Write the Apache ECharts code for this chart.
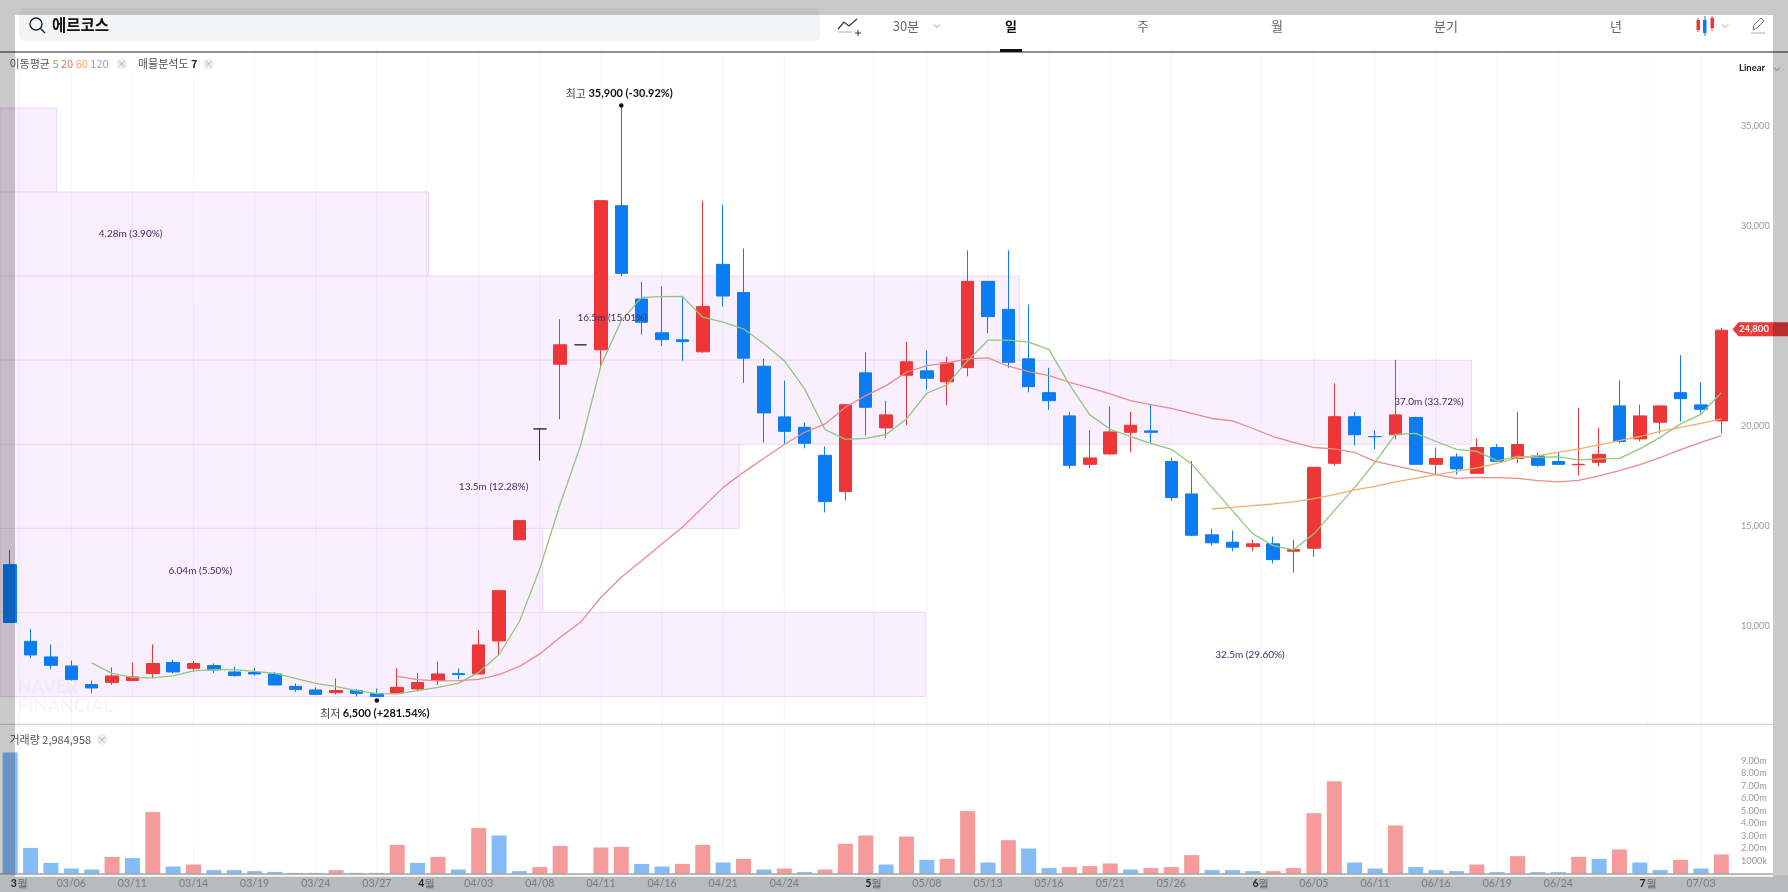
<!DOCTYPE html>
<html>
<head>
<meta charset="utf-8">
<title>에르코스</title>
<script src="https://cdn.jsdelivr.net/npm/echarts@6/dist/echarts.min.js"></script>
<style>
html,body{margin:0;padding:0;background:#fff;}
#main{width:1788px;height:892px;}
</style>
</head>
<body>
<div id="main"></div>
<script>
// 거래일 (2025/02/28 ~ 07/04)
var tradeDays = ['02/28','03/04','03/05','03/06','03/07','03/10','03/11','03/12','03/13','03/14',
    '03/17','03/18','03/19','03/20','03/21','03/24','03/25','03/26','03/27','03/28',
    '03/31','04/01','04/02','04/03','04/04','04/07','04/08','04/09','04/10','04/11',
    '04/14','04/15','04/16','04/17','04/18','04/21','04/22','04/23','04/24','04/25',
    '04/28','04/29','04/30','05/02','05/07','05/08','05/09','05/12','05/13','05/14',
    '05/15','05/16','05/19','05/20','05/21','05/22','05/23','05/26','05/27','05/28',
    '05/29','05/30','06/02','06/04','06/05','06/09','06/10','06/11','06/12','06/13',
    '06/16','06/17','06/18','06/19','06/20','06/23','06/24','06/25','06/26','06/27',
    '06/30','07/01','07/02','07/03','07/04'];

var priceOpen = [13090,9260,8480,8030,7100,7210,7300,7650,8200,7910,
    8050,7730,7700,7630,7010,6830,6700,6800,6650,6680,
    6880,7300,7650,7630,9280,14330,19870,23100,24070,23820,
    31020,26360,24670,24320,23720,28090,26680,23000,20470,19950,
    18550,16740,22670,19920,22550,22770,22220,22930,27240,25840,
    23370,21680,20520,18100,18620,19700,19770,18240,16620,14580,
    14210,13990,14130,13760,13910,18150,20480,19490,19580,20440,
    18100,18470,17650,18940,18390,18520,18240,18080,18200,21020,
    19370,20200,21680,21070,20270];
var priceClose = [10200,8580,8060,7350,6930,7530,7480,8150,7730,8150,
    7830,7550,7630,7080,6850,6610,6800,6660,6500,6960,
    7200,7630,7600,9080,11790,15290,19870,24070,24070,31270,
    27640,25200,24330,24230,25980,26510,23400,20670,19750,19150,
    16240,21080,20950,20570,23220,22400,23170,27240,25480,23200,
    21980,21280,18050,18420,19720,20050,19700,16440,14560,14180,
    13960,14130,13340,13840,17950,20480,19580,19480,20570,18100,
    18390,17870,18940,18250,19090,18050,18100,18100,18600,19240,
    20520,21020,21380,20850,24800];
var priceLow = [10200,8410,7860,7300,6660,7080,7300,7410,7660,7760,
    7680,7500,7550,7060,6730,6600,6610,6500,6500,6630,
    6760,7080,7360,7630,8600,14330,18290,20350,24070,23000,
    27490,24580,24000,23280,23670,25980,22170,19190,19120,18900,
    15700,16290,19540,19420,20070,21830,21050,22500,24650,22920,
    21700,20820,17870,17920,18570,18700,19170,16270,14510,14040,
    13760,13760,13160,12690,13480,18020,19050,18850,19350,18100,
    17550,17590,17650,18200,18150,17970,18100,17550,18000,19140,
    19250,19650,20240,20650,19640];
var priceHigh = [13830,9880,9100,8300,7300,7960,8200,9100,8350,8280,
    8150,8000,7930,7730,7160,6960,7400,6880,6900,7910,
    7680,8250,7910,9800,11790,15290,19870,25350,24070,31270,
    35900,27210,26980,26480,31270,31070,28880,23370,22280,20190,
    18990,21080,23700,21270,24220,23780,23480,28790,27240,28790,
    26080,22920,20720,19790,20980,20720,21100,18420,18270,14880,
    14790,14330,14490,14330,17950,22150,20720,19790,23320,20480,
    18940,18650,19390,19120,20720,18670,18720,20930,19930,22300,
    21080,21020,23550,22200,24920];

var ma5 = [null,null,null,null,8180,7660,7460,7430,7530,7780,
    7850,7850,7760,7660,7410,7160,7000,6800,6650,6630,
    6800,6960,7160,7710,8600,10250,12890,16120,19040,23030,
    25280,26440,26480,26490,25450,25200,24870,24120,23280,21870,
    19840,19350,19400,19590,20370,21650,22080,23280,24300,24300,
    24200,23830,22080,20570,19850,19490,19150,18850,18120,16950,
    15790,14630,14040,13830,14630,15790,16950,18200,19600,19650,
    19240,18850,18750,18270,18500,18450,18470,18320,18370,18400,
    18870,19450,20120,20600,21680];
var ma20 = [null,null,null,null,null,null,null,null,null,null,
    null,null,null,null,null,null,null,null,null,7510,
    7350,7280,7300,7360,7600,8010,8630,9460,10210,11460,
    12460,13290,14130,14960,15950,16950,17700,18400,19090,19700,
    20120,20950,21530,22030,22700,23030,23170,23370,23420,23000,
    22730,22530,22200,21920,21620,21280,21080,20900,20650,20390,
    20270,19890,19490,19200,18940,18870,18690,18250,18020,17800,
    17590,17400,17450,17440,17400,17290,17220,17300,17520,17790,
    18090,18440,18840,19200,19540];
var ma60 = [null,null,null,null,null,null,null,null,null,null,
    null,null,null,null,null,null,null,null,null,null,
    null,null,null,null,null,null,null,null,null,null,
    null,null,null,null,null,null,null,null,null,null,
    null,null,null,null,null,null,null,null,null,null,
    null,null,null,null,null,null,null,null,null,15870,
    15950,16040,16120,16220,16390,16590,16820,17000,17220,17400,
    17590,17750,17920,18150,18420,18540,18700,18870,19070,19290,
    19490,19750,19950,20150,20370];

// 거래량(백만주), 1이면 빨강 0이면 파랑
var volume = [9.68,2.05,0.85,0.40,0.32,1.33,1.23,4.91,0.56,0.72,
    0.27,0.27,0.19,0.13,0.05,0.05,0.27,0.05,0.05,2.29,
    0.85,1.33,0.32,3.63,3.04,0.19,0.51,2.21,0,2.08,
    2.13,0.77,0.56,0.77,2.29,0.88,1.17,0.32,0.40,0.11,
    0.32,2.37,3.04,0.72,2.96,1.09,1.17,4.99,0.88,2.67,
    2.00,0.43,0.51,0.59,0.80,0.32,0.43,0.51,1.47,0.27,
    0.27,0.19,0.19,0.43,4.83,7.39,0.88,0.40,3.84,0.51,
    0.27,0.19,0.72,0.11,1.39,0.11,0.11,1.33,1.17,1.92,
    0.88,0.27,1.09,0.40,1.52];
var volumeUp = [0,0,0,0,0,1,0,1,0,1,
    0,0,0,0,0,0,1,0,1,1,
    0,1,0,1,0,0,1,1,1,1,
    1,0,0,1,1,0,1,0,1,0,
    1,1,1,0,1,0,1,1,0,1,
    0,0,1,1,1,0,1,1,1,0,
    0,0,1,1,1,1,0,0,1,0,
    0,0,1,0,1,0,0,1,0,1,
    0,0,1,0,1];

// 날짜축 눈금 (월 경계는 두 거래일 사이)
var tickAt = [0.45,3,6,9,12,15,18,20.45,23,26,29,32,35,38,42.4,45,48,51,54,57,61.4,64,67,70,73,76,80.4,83];
var tickLabel = ['3월','03/06','03/11','03/14','03/19','03/24','03/27','4월','04/03','04/08','04/11','04/16','04/21','04/24',
    '5월','05/08','05/13','05/16','05/21','05/26','6월','06/05','06/11','06/16','06/19','06/24','7월','07/03'];

// 매물분석도 7구간
var profileLow = [31700,27500,23300,19100,14900,10700,6500];
var profileHigh = [35900,31700,27500,23300,19100,14900,10700];
var profileReach = [2.27,20.54,49.56,71.73,35.78,26.15,44.92];
var profileText = ['','4.28m (3.90%)','16.5m (15.01%)','37.0m (33.72%)','13.5m (12.28%)','6.04m (5.50%)','32.5m (29.60%)'];
var profileTextAt = [0,5.91,29.55,69.65,23.73,9.33,60.86];

var extremeAt = [30,18];
var extremePrice = [35900,6500];
var extremeWord = ['최고','최저'];
var extremeText = ['35,900 (-30.92%)','6,500 (+281.54%)'];

var lastPrice = 24800;

var RED = '#ee3638', BLUE = '#0b7cf2';
var FONT = '"Noto Sans CJK KR","Noto Sans",sans-serif';
var NUMFONT = 'Lato,"Noto Sans",sans-serif';

var candleData = [];
for (var i = 0; i < tradeDays.length; i++) {
    var item = {value: [priceOpen[i], priceClose[i], priceLow[i], priceHigh[i]]};
    if (priceOpen[i] === priceClose[i]) {
        // 보합은 검정
        item.itemStyle = {color: '#333', color0: '#333', borderColor: '#333', borderColor0: '#333', borderColorDoji: '#333'};
    }
    candleData.push(item);
}
var volumeData = volume.map(function (v, k) {
    return {value: v * 1000000, itemStyle: {color: volumeUp[k] ? '#f59b9b' : '#84bcf7'}};
});
var profileData = profileLow.map(function (v, k) {
    return [profileReach[k], v, profileHigh[k]];
});
var profileTextData = profileLow.map(function (v, k) {
    return [profileTextAt[k], (v + profileHigh[k]) / 2, profileText[k]];
});
var tickData = tickAt.map(function (v, k) {
    return [v, tickLabel[k]];
});
var extremeData = extremeAt.map(function (v, k) {
    return [v, extremePrice[k], extremeWord[k], extremeText[k], k];
});

function thousands(v) {
    return String(v).replace(/\B(?=(\d{3})+$)/g, ',');
}

function seriesLine(name, values, color) {
    return {
        name: name, type: 'line', data: values, xAxisIndex: 0, yAxisIndex: 0, z: 4,
        showSymbol: false, silent: true, connectNulls: false,
        lineStyle: {width: 1.3, color: color}
    };
}

function closeDot(x, y) {
    return [
        {type: 'circle', z: 60, shape: {cx: x, cy: y, r: 5.5}, style: {fill: '#efefef'}},
        {type: 'text', z: 61, style: {x: x, y: y, text: '×', fill: '#aaa', fontSize: 9, align: 'center', verticalAlign: 'middle', fontFamily: FONT}}
    ];
}

function chevron(x, y) {
    return {type: 'polyline', z: 61, shape: {points: [[x - 3, y - 1.5], [x, y + 1.5], [x + 3, y - 1.5]]}, style: {fill: null, stroke: '#999', lineWidth: 1}};
}

function navText(x, text, bold) {
    return {type: 'text', z: 61, style: {x: x, y: 26, text: text, align: 'center', verticalAlign: 'middle',
        fill: bold ? '#111' : '#666', fontSize: 13, fontWeight: bold ? 'bold' : 'normal', fontFamily: FONT}};
}

var graphics = [
    // 날짜 영역
    {type: 'rect', z: 2, shape: {x: 0, y: 875.5, width: 1788, height: 17}, style: {fill: '#eaecee'}},
    {type: 'line', z: 30, shape: {x1: 0, y1: 874, x2: 1773, y2: 874}, style: {stroke: '#777', lineWidth: 1.2}},
    {type: 'line', z: 30, shape: {x1: 0, y1: 724.3, x2: 1773, y2: 724.3}, style: {stroke: '#d4d4de', lineWidth: 1.2}},
    // 워터마크
    {type: 'text', z: 2, style: {x: 18, y: 687, text: 'NAVER', fill: 'rgba(225,222,232,0.28)', fontSize: 18, fontWeight: 'bold', verticalAlign: 'middle', fontFamily: NUMFONT}},
    {type: 'text', z: 2, style: {x: 18, y: 706, text: 'FINANCIAL', fill: 'rgba(225,222,232,0.28)', fontSize: 18, fontWeight: 'bold', verticalAlign: 'middle', fontFamily: NUMFONT}},
    // 상단 바
    {type: 'rect', z: 60, shape: {x: 0, y: 0, width: 1788, height: 52}, style: {fill: '#fff'}},
    {type: 'rect', z: 61, shape: {x: 19, y: 8, width: 801, height: 33, r: 6}, style: {fill: '#f3f4f6'}},
    {type: 'circle', z: 62, shape: {cx: 36, cy: 24, r: 6}, style: {fill: null, stroke: '#222', lineWidth: 1.4}},
    {type: 'line', z: 62, shape: {x1: 40.5, y1: 28.5, x2: 45, y2: 33}, style: {stroke: '#222', lineWidth: 1.4}},
    {type: 'text', z: 62, style: {x: 52, y: 25, text: '에르코스', fill: '#111', fontSize: 15.5, fontWeight: 'bold', verticalAlign: 'middle', fontFamily: FONT}},
    {type: 'line', z: 61, shape: {x1: 0, y1: 52, x2: 1788, y2: 52}, style: {stroke: '#6a6a6a', lineWidth: 1.5}},
    // 차트 유형 아이콘
    {type: 'polyline', z: 61, shape: {points: [[838, 29], [844, 22], [849, 26], [857, 19]]}, style: {fill: null, stroke: '#333', lineWidth: 1.2}},
    {type: 'line', z: 61, shape: {x1: 838, y1: 32, x2: 852, y2: 32}, style: {stroke: '#aaa', lineWidth: 1}},
    {type: 'line', z: 61, shape: {x1: 855, y1: 33, x2: 861, y2: 33}, style: {stroke: '#333', lineWidth: 1}},
    {type: 'line', z: 61, shape: {x1: 858, y1: 30, x2: 858, y2: 36}, style: {stroke: '#333', lineWidth: 1}},
    navText(906, '30분'), chevron(937, 26),
    navText(1011, '일', true),
    {type: 'rect', z: 61, shape: {x: 1000, y: 49, width: 22, height: 3}, style: {fill: '#111'}},
    navText(1143, '주'), navText(1277, '월'), navText(1446, '분기'), navText(1616, '년'),
    // 캔들 아이콘
    {type: 'rect', z: 61, shape: {x: 1696.5, y: 20, width: 3.5, height: 10}, style: {fill: RED}},
    {type: 'line', z: 61, shape: {x1: 1698, y1: 18, x2: 1698, y2: 32}, style: {stroke: RED, lineWidth: 1}},
    {type: 'rect', z: 61, shape: {x: 1703, y: 20, width: 3.5, height: 13}, style: {fill: BLUE}},
    {type: 'line', z: 61, shape: {x1: 1705, y1: 16, x2: 1705, y2: 36}, style: {stroke: BLUE, lineWidth: 1}},
    {type: 'rect', z: 61, shape: {x: 1710.5, y: 18, width: 3.5, height: 10}, style: {fill: RED}},
    {type: 'line', z: 61, shape: {x1: 1712, y1: 16, x2: 1712, y2: 31}, style: {stroke: RED, lineWidth: 1}},
    chevron(1725, 26),
    // 연필
    {type: 'polyline', z: 61, shape: {points: [[1753, 30], [1754, 25], [1761, 18], [1764, 21], [1757, 28], [1753, 30]]}, style: {fill: null, stroke: '#777', lineWidth: 1}},
    {type: 'line', z: 61, shape: {x1: 1751, y1: 33, x2: 1765, y2: 33}, style: {stroke: '#aaa', lineWidth: 1}},
    {type: 'text', z: 61, style: {x: 1739, y: 68, text: 'Linear', fill: '#222', fontSize: 9.5, fontWeight: 'bold', verticalAlign: 'middle', fontFamily: NUMFONT}},
    chevron(1777, 69),
    // 범례
    {type: 'rect', z: 59, shape: {x: 0, y: 54, width: 225, height: 19}, style: {fill: '#fff'}},
    {type: 'text', z: 61, style: {x: 9.5, y: 64, verticalAlign: 'middle', fontFamily: FONT, fontSize: 11, fill: '#555',
        text: '이동평균 {g|5} {r|20} {o|60} {p|120}',
        rich: {g: {fill: '#72c35f', fontSize: 11, fontFamily: FONT}, r: {fill: '#ee6a6a', fontSize: 11, fontFamily: FONT},
            o: {fill: '#f3a25a', fontSize: 11, fontFamily: FONT}, p: {fill: '#b08bd8', fontSize: 11, fontFamily: FONT}}}},
    {type: 'text', z: 61, style: {x: 138, y: 64, verticalAlign: 'middle', fontFamily: FONT, fontSize: 11, fill: '#555',
        text: '매물분석도 {b|7}', rich: {b: {fill: '#222', fontWeight: 'bold', fontSize: 11, fontFamily: FONT}}}},
    {type: 'text', z: 61, style: {x: 9.5, y: 739.5, verticalAlign: 'middle', fontFamily: FONT, fontSize: 11, fill: '#555', text: '거래량 2,984,958'}}
].concat(closeDot(121.7, 64), closeDot(208.6, 64), closeDot(102, 739.5), [
    // 캡처에 덮인 회색 테두리
    {type: 'rect', z: 100, shape: {x: 0, y: 0, width: 1788, height: 15}, style: {fill: 'rgba(0,0,0,0.21)'}},
    {type: 'rect', z: 100, shape: {x: 0, y: 877, width: 1788, height: 15}, style: {fill: 'rgba(0,0,0,0.21)'}},
    {type: 'rect', z: 100, shape: {x: 0, y: 15, width: 15, height: 862}, style: {fill: 'rgba(0,0,0,0.21)'}},
    {type: 'rect', z: 100, shape: {x: 1773, y: 15, width: 15, height: 862}, style: {fill: 'rgba(0,0,0,0.21)'}}
]);

var option = {
    animation: false,
    backgroundColor: '#fff',
    graphic: {elements: graphics},
    grid: [
        {left: -2, width: 1733.5, top: 25.9, height: 700.7},
        {left: -2, width: 1733.5, top: 723.5, height: 150}
    ],
    xAxis: [
        {type: 'category', gridIndex: 0, data: tradeDays, show: false},
        {type: 'value', gridIndex: 0, min: -0.5, max: 84.5, show: false},
        {type: 'category', gridIndex: 1, data: tradeDays, show: false}
    ],
    yAxis: [
        {
            type: 'value', gridIndex: 0, position: 'right', min: 5000, max: 40000, interval: 5000,
            axisLine: {show: false}, splitLine: {show: false},
            axisTick: {show: true, length: 4, lineStyle: {color: '#e6e6e6'}},
            axisLabel: {
                showMinLabel: false, showMaxLabel: false, margin: 9.5, color: '#999', fontSize: 9.2, fontFamily: NUMFONT,
                formatter: function (v) { return v === 25000 ? '' : thousands(v); }
            }
        },
        {
            type: 'value', gridIndex: 1, position: 'right', min: 0, max: 12000000, interval: 1000000,
            axisLine: {show: false}, splitLine: {show: false}, axisTick: {show: false},
            axisLabel: {
                margin: 9.5, color: '#999', fontSize: 9.2, fontFamily: NUMFONT,
                formatter: function (v) {
                    if (v === 0 || v > 9000000) { return ''; }
                    if (v === 1000000) { return '1000k'; }
                    return (v / 1000000).toFixed(2) + 'm';
                }
            }
        }
    ],
    series: [
        {
            // 매물분석도 구간
            type: 'custom', xAxisIndex: 1, yAxisIndex: 0, z: 1, silent: true, data: profileData,
            encode: {x: 0, y: 1},
            renderItem: function (params, api) {
                var a = api.coord([-0.5, api.value(2)]);
                var b = api.coord([api.value(0), api.value(1)]);
                return {
                    type: 'rect',
                    shape: {x: a[0], y: a[1], width: b[0] - a[0], height: b[1] - a[1]},
                    style: {fill: '#faeffe', stroke: '#ecd9f2', lineWidth: 1}
                };
            }
        },
        {
            // 세로 눈금선
            type: 'custom', xAxisIndex: 1, yAxisIndex: 0, z: 1.5, silent: true, data: tickData,
            encode: {x: 0},
            renderItem: function (params, api) {
                var p = api.coord([api.value(0), 20000]);
                return {
                    type: 'line',
                    shape: {x1: p[0], y1: 53, x2: p[0], y2: 875},
                    style: {stroke: 'rgba(110,110,140,0.08)', lineWidth: 1}
                };
            }
        },
        {
            // 날짜 라벨
            type: 'custom', xAxisIndex: 1, yAxisIndex: 0, z: 6, silent: true, data: tickData,
            encode: {x: 0},
            renderItem: function (params, api) {
                var p = api.coord([api.value(0), 20000]);
                var label = tickLabel[params.dataIndex];
                var isMonth = label.indexOf('월') > 0;
                return {
                    type: 'text',
                    style: {
                        x: p[0], y: 883.5, align: 'center', verticalAlign: 'middle',
                        text: isMonth ? '{m|' + label.charAt(0) + '}월' : label,
                        fill: isMonth ? '#7a7f85' : '#9aa0a6', fontSize: 10.5, fontFamily: NUMFONT,
                        rich: {m: {fill: '#2e2e2e', fontWeight: 'bold', fontSize: 10.5, fontFamily: NUMFONT}}
                    }
                };
            }
        },
        {
            name: '거래량', type: 'bar', xAxisIndex: 2, yAxisIndex: 1, z: 3, silent: true,
            barWidth: 15, data: volumeData
        },
        {
            name: '캔들', type: 'candlestick', xAxisIndex: 0, yAxisIndex: 0, z: 3, silent: true,
            barWidth: 13, data: candleData,
            itemStyle: {color: RED, color0: BLUE, borderColor: RED, borderColor0: BLUE, borderColorDoji: RED, borderWidth: 1}
        },
        seriesLine('5', ma5, '#8cc97a'),
        seriesLine('20', ma20, '#ee8a8a'),
        seriesLine('60', ma60, '#f3ae6f'),
        {
            // 매물 라벨
            type: 'custom', xAxisIndex: 1, yAxisIndex: 0, z: 5, silent: true, data: profileTextData,
            encode: {x: 0, y: 1},
            renderItem: function (params, api) {
                var p = api.coord([api.value(0), api.value(1)]);
                return {
                    type: 'text',
                    style: {
                        x: p[0], y: p[1], align: 'center', verticalAlign: 'middle',
                        text: profileText[params.dataIndex], fill: '#452a66', fontSize: 10, fontFamily: NUMFONT
                    }
                };
            }
        },
        {
            // 최고 최저 표시
            type: 'custom', xAxisIndex: 1, yAxisIndex: 0, z: 6, silent: true, data: extremeData,
            encode: {x: 0, y: 1},
            renderItem: function (params, api) {
                var k = params.dataIndex;
                var p = api.coord([api.value(0), api.value(1)]);
                var dotY = k === 0 ? p[1] - 2.5 : p[1] + 4;
                var textY = k === 0 ? p[1] - 14.5 : p[1] + 17;
                return {
                    type: 'group',
                    children: [
                        {type: 'circle', shape: {cx: p[0], cy: dotY, r: 2.3}, style: {fill: '#111'}},
                        {
                            type: 'text',
                            style: {
                                x: p[0] - 2, y: textY, align: 'center', verticalAlign: 'middle',
                                text: extremeWord[k] + ' {b|' + extremeText[k] + '}',
                                fill: '#444', fontSize: 11, fontFamily: FONT,
                                rich: {b: {fill: '#111', fontSize: 11, fontWeight: 'bold', fontFamily: NUMFONT}}
                            }
                        }
                    ]
                };
            }
        },
        {
            // 현재가 태그
            type: 'custom', xAxisIndex: 1, yAxisIndex: 0, z: 7, silent: true, data: [[84.5, lastPrice]],
            encode: {x: 0, y: 1},
            renderItem: function (params, api) {
                var p = api.coord([api.value(0), api.value(1)]);
                var x = p[0] + 1, y = p[1] - 1;
                return {
                    type: 'group',
                    children: [
                        {
                            type: 'polygon',
                            shape: {points: [[x, y], [x + 6, y - 7], [1788, y - 7], [1788, y + 7], [x + 6, y + 7]]},
                            style: {fill: '#ee3a3a'}
                        },
                        {
                            type: 'text',
                            style: {x: 1754, y: y, align: 'center', verticalAlign: 'middle', text: thousands(lastPrice), fill: '#fff', fontSize: 9.5, fontWeight: 'bold', fontFamily: NUMFONT}
                        }
                    ]
                };
            }
        }
    ]
};

var chart = echarts.init(document.getElementById('main'), null, {renderer: 'canvas'});
chart.setOption(option);
</script>
</body>
</html>
